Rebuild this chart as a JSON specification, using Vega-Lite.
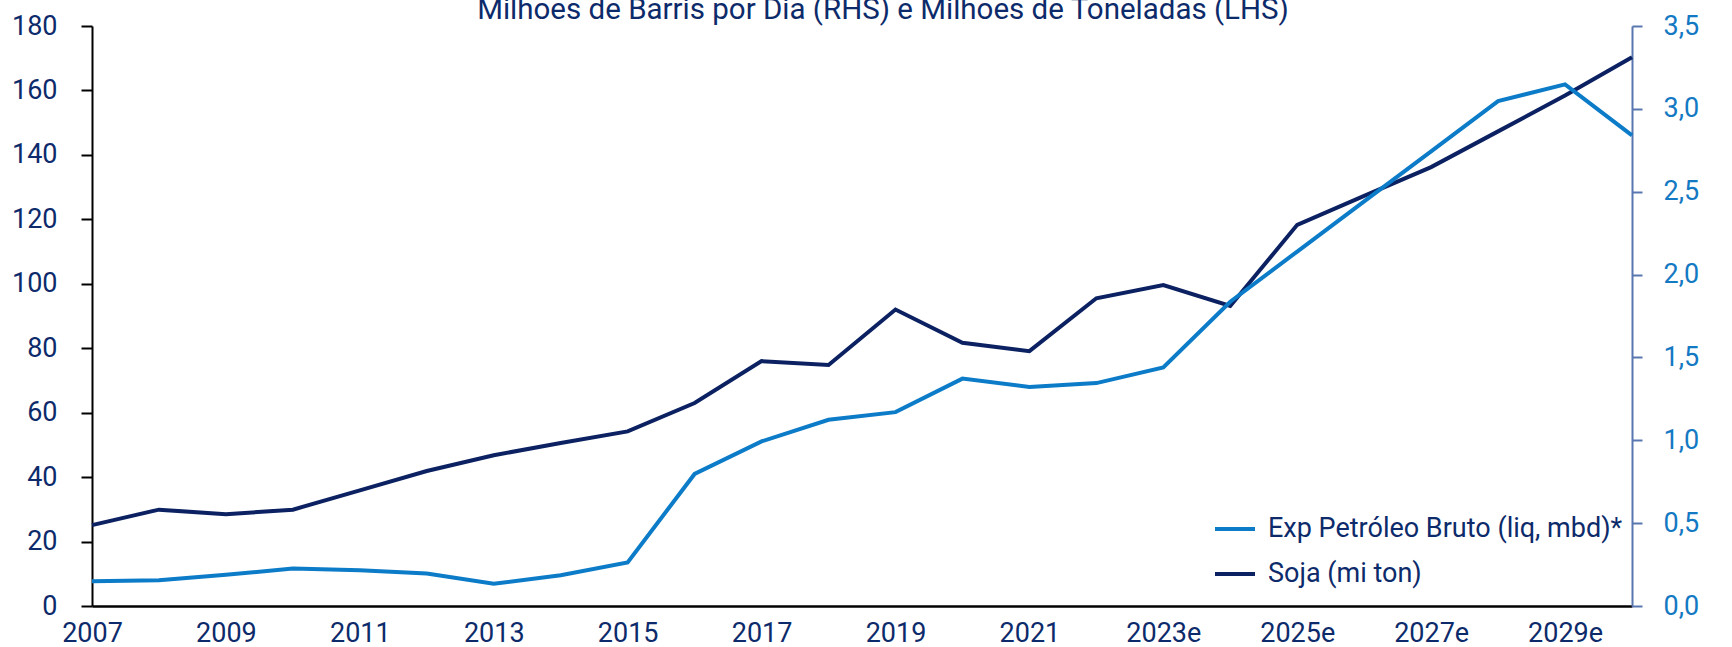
{
  "$schema": "https://vega.github.io/schema/vega-lite/v6.json",
  "width": 1540,
  "height": 580,
  "autosize": "none",
  "padding": {"left": 92, "top": 26, "right": 100, "bottom": 41},
  "background": "white",
  "config": {
    "font": "Roboto",
    "view": {"stroke": null},
    "axis": {"grid": false, "labelFont": "Roboto", "labelFontSize": 27, "labelColor": "#0d2b6b"},
    "legend": {"labelFont": "Roboto"}
  },
  "title": {
    "text": "Milhões de Barris por Dia (RHS) e Milhões de Toneladas (LHS)",
    "font": "Roboto",
    "fontSize": 29.5,
    "fontWeight": "normal",
    "color": "#0d2b6b",
    "frame": "group",
    "anchor": "middle",
    "baseline": "alphabetic",
    "offset": -36,
    "dx": 21
  },
  "data": {
    "values": [
      {"ano": "2007", "soja": 25.1, "petroleo": 0.150},
      {"ano": "2008", "soja": 29.9, "petroleo": 0.156},
      {"ano": "2009", "soja": 28.5, "petroleo": 0.188},
      {"ano": "2010", "soja": 29.9, "petroleo": 0.226},
      {"ano": "2011", "soja": 35.9, "petroleo": 0.216},
      {"ano": "2012", "soja": 41.9, "petroleo": 0.196},
      {"ano": "2013", "soja": 46.8, "petroleo": 0.134},
      {"ano": "2014", "soja": 50.6, "petroleo": 0.186},
      {"ano": "2015", "soja": 54.2, "petroleo": 0.263},
      {"ano": "2016", "soja": 63.0, "petroleo": 0.797},
      {"ano": "2017", "soja": 76.0, "petroleo": 0.993},
      {"ano": "2018", "soja": 74.8, "petroleo": 1.124},
      {"ano": "2019", "soja": 92.0, "petroleo": 1.170},
      {"ano": "2020", "soja": 81.7, "petroleo": 1.372},
      {"ano": "2021", "soja": 79.1, "petroleo": 1.322},
      {"ano": "2022", "soja": 95.5, "petroleo": 1.345},
      {"ano": "2023e", "soja": 99.6, "petroleo": 1.439},
      {"ano": "2024e", "soja": 93.1, "petroleo": 1.836},
      {"ano": "2025e", "soja": 118.3, "petroleo": 2.139},
      {"ano": "2026e", "soja": 127.3, "petroleo": 2.442},
      {"ano": "2027e", "soja": 136.2, "petroleo": 2.744},
      {"ano": "2028e", "soja": 147.3, "petroleo": 3.047},
      {"ano": "2029e", "soja": 158.4, "petroleo": 3.148},
      {"ano": "2030e", "soja": 170.3, "petroleo": 2.840}
    ]
  },
  "encoding": {
    "x": {
      "field": "ano",
      "type": "ordinal",
      "sort": null,
      "scale": {"type": "point", "padding": 0},
      "axis": {
        "title": null,
        "labelAngle": 0,
        "values": ["2007", "2009", "2011", "2013", "2015", "2017", "2019", "2021", "2023e", "2025e", "2027e", "2029e"],
        "ticks": false,
        "labelPadding": 14,
        "domainColor": "#000000",
        "domainWidth": 2.5,
        "labelBaseline": "top"
      }
    }
  },
  "layer": [
    {
      "mark": {"type": "line", "strokeWidth": 4, "strokeJoin": "miter"},
      "encoding": {
        "y": {
          "field": "soja",
          "type": "quantitative",
          "scale": {"domain": [0, 180], "nice": false},
          "axis": {
            "title": null,
            "orient": "left",
            "values": [0, 20, 40, 60, 80, 100, 120, 140, 160, 180],
            "tickSize": 11,
            "tickWidth": 2,
            "tickColor": "#000000",
            "domainColor": "#000000",
            "domainWidth": 2,
            "labelPadding": 24,
            "labelColor": "#0d2b6b"
          }
        },
        "color": {
          "datum": "Soja (mi ton)",
          "type": "nominal",
          "scale": {
            "domain": ["Exp Petróleo Bruto (liq, mbd)*", "Soja (mi ton)"],
            "range": ["#0c7bc8", "#0b2161"]
          },
          "legend": {
            "title": null,
            "orient": "none",
            "legendX": 1121,
            "legendY": 481,
            "symbolType": "stroke",
            "symbolSize": 1600,
            "symbolStrokeWidth": 4,
            "labelFontSize": 27,
            "labelColor": "#0d2b6b",
            "labelOffset": 11,
            "labelLimit": 600,
            "rowPadding": 10,
            "padding": 0
          }
        }
      }
    },
    {
      "mark": {"type": "line", "strokeWidth": 4, "strokeJoin": "miter"},
      "encoding": {
        "y": {
          "field": "petroleo",
          "type": "quantitative",
          "scale": {"domain": [0, 3.5], "nice": false},
          "axis": {
            "title": null,
            "orient": "right",
            "values": [0, 0.5, 1, 1.5, 2, 2.5, 3, 3.5],
            "labelExpr": "replace(format(datum.value, '.1f'), '.', ',')",
            "tickSize": 10,
            "tickWidth": 2,
            "tickColor": "#5876b0",
            "domainColor": "#5876b0",
            "domainWidth": 2,
            "labelPadding": 21,
            "labelColor": "#1479c3"
          }
        },
        "color": {
          "datum": "Exp Petróleo Bruto (liq, mbd)*",
          "type": "nominal"
        }
      }
    }
  ],
  "resolve": {"scale": {"y": "independent"}}
}
